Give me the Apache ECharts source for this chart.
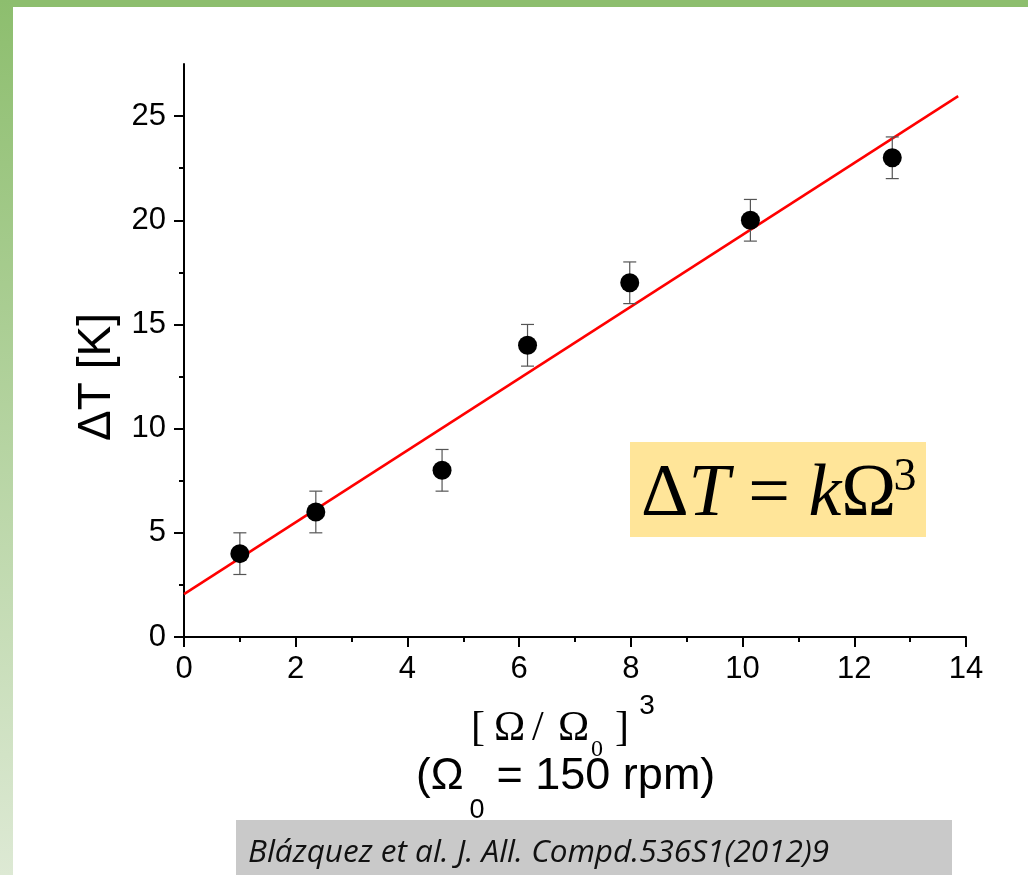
<!DOCTYPE html>
<html>
<head>
<meta charset="utf-8">
<script src="https://cdn.jsdelivr.net/npm/echarts@6/dist/echarts.min.js"></script>
<style>html,body{margin:0;padding:0;background:#fff}#c{width:1028px;height:875px}</style>
</head>
<body>
<div id="c"></div>
<script>
// Data
var xValues = [1.0, 2.36, 4.62, 6.15, 7.98, 10.14, 12.68];
var yValues = [4.0, 6.0, 8.0, 14.0, 17.0, 20.0, 23.0];
var yErrors = [1, 1, 1, 1, 1, 1, 1];
var fitX = [0, 13.86];
var fitY = [2.06, 25.96];
var xTicks = [0, 2, 4, 6, 8, 10, 12, 14];
var yTicks = [0, 5, 10, 15, 20, 25];

var points = xValues.map(function (x, i) { return [x, yValues[i]]; });
var errs = xValues.map(function (x, i) { return [x, yValues[i] - yErrors[i], yValues[i] + yErrors[i]]; });
var fit = fitX.map(function (x, i) { return [x, fitY[i]]; });

var chart = echarts.init(document.getElementById('c'), null, { renderer: 'canvas' });
var AX = { color: '#000', width: 2 };
function txt(x, y, s, fam, size, align) {
  return { type: 'text', x: x, y: y, z: 11,
    style: { text: s, fontFamily: fam, fontSize: size, fill: '#000', align: align || 'left', verticalAlign: 'middle' } };
}
var SERIF = 'Liberation Serif', SANS = 'Liberation Sans';
var option = {
  backgroundColor: '#fff',
  animation: false,
  grid: { left: 184, right: 62, top: 64, bottom: 238, containLabel: false },
  xAxis: {
    type: 'value', min: 0, max: 14, interval: 2,
    axisLine: { onZero: false, lineStyle: AX },
    axisTick: { length: 10, lineStyle: AX },
    minorTick: { show: true, splitNumber: 2, length: 5, lineStyle: AX },
    splitLine: { show: false },
    axisLabel: { color: '#000', fontFamily: SANS, fontSize: 31, margin: 17 }
  },
  yAxis: {
    type: 'value', min: 0, max: 27.5, interval: 5,
    axisLine: { onZero: false, lineStyle: AX },
    axisTick: { length: 10, lineStyle: AX, customValues: yTicks },
    minorTick: { show: true, splitNumber: 2, length: 5, lineStyle: AX },
    splitLine: { show: false },
    axisLabel: { color: '#000', fontFamily: SANS, fontSize: 31, margin: 18, customValues: yTicks }
  },
  series: [
    {
      type: 'line', data: fit, showSymbol: false, symbol: 'none',
      lineStyle: { color: '#ff0000', width: 2.5 }, z: 3
    },
    {
      type: 'custom', data: errs, z: 4,
      renderItem: function (params, api) {
        var x = api.value(0);
        var lo = api.coord([x, api.value(1)]);
        var hi = api.coord([x, api.value(2)]);
        var w = 6.5;
        var st = { stroke: '#555', lineWidth: 1.2 };
        return {
          type: 'group', children: [
            { type: 'line', shape: { x1: lo[0], y1: lo[1], x2: hi[0], y2: hi[1] }, style: st },
            { type: 'line', shape: { x1: lo[0] - w, y1: lo[1], x2: lo[0] + w, y2: lo[1] }, style: st },
            { type: 'line', shape: { x1: hi[0] - w, y1: hi[1], x2: hi[0] + w, y2: hi[1] }, style: st }
          ]
        };
      }
    },
    {
      type: 'scatter', data: points, symbol: 'circle', symbolSize: 19,
      itemStyle: { color: '#000', opacity: 1 }, z: 5
    }
  ],
  graphic: [
    { type: 'rect', left: 0, top: 0, shape: { width: 1028, height: 7 }, style: { fill: '#8dbe6e' }, z: 100 },
    { type: 'rect', left: 0, top: 0, shape: { width: 13, height: 875 },
      style: { fill: new echarts.graphic.LinearGradient(0, 0, 0, 1, [{ offset: 0, color: '#8dbe6e' }, { offset: 1, color: '#dde9d4' }]) }, z: 100 },
    // y-axis name
    { type: 'text', x: 97, y: 377, rotation: Math.PI / 2,
      style: { text: 'ΔT [K]', fontFamily: SANS, fontSize: 46, fill: '#000', align: 'center', verticalAlign: 'middle' } },
    // x-axis title line 1
    txt(471, 729, '[', SERIF, 42),
    txt(494, 729, 'Ω', SERIF, 42),
    txt(532, 729, '/', SERIF, 42),
    txt(558, 729, 'Ω', SERIF, 42),
    txt(597, 750, '0', SERIF, 24, 'center'),
    txt(615, 729, ']', SERIF, 42),
    txt(647, 706, '3', SANS, 28, 'center'),
    // x-axis title line 2
    txt(416, 777, '(Ω', SANS, 44),
    txt(477, 811, '0', SANS, 27, 'center'),
    txt(484, 777, ' = 150 rpm)', SANS, 45),
    // formula box
    { type: 'rect', left: 630, top: 442, shape: { width: 296, height: 95 }, style: { fill: '#ffe599' }, z: 10 },
    { type: 'text', x: 641, y: 496, z: 11,
      style: {
        text: '{a|Δ}{b|T}{a| = }{b|k}{a|Ω}',
        align: 'left', verticalAlign: 'middle',
        rich: {
          a: { fontFamily: SERIF, fontSize: 74, fill: '#000' },
          b: { fontFamily: SERIF, fontStyle: 'italic', fontSize: 74, fill: '#000' }
        }
      } },
    txt(905, 478, '3', SERIF, 46, 'center'),
    // citation box
    { type: 'rect', left: 236, top: 820, shape: { width: 716, height: 55 }, style: { fill: '#c9c9c9' }, z: 10 },
    { type: 'text', x: 248, y: 853, z: 11,
      style: { text: 'Blázquez et al. J. All. Compd.536S1(2012)9', fontFamily: 'Open Sans', fontStyle: 'italic', fontSize: 31.5, fill: '#111', align: 'left', verticalAlign: 'middle' } }
  ]
};
chart.setOption(option);
</script>
</body>
</html>
